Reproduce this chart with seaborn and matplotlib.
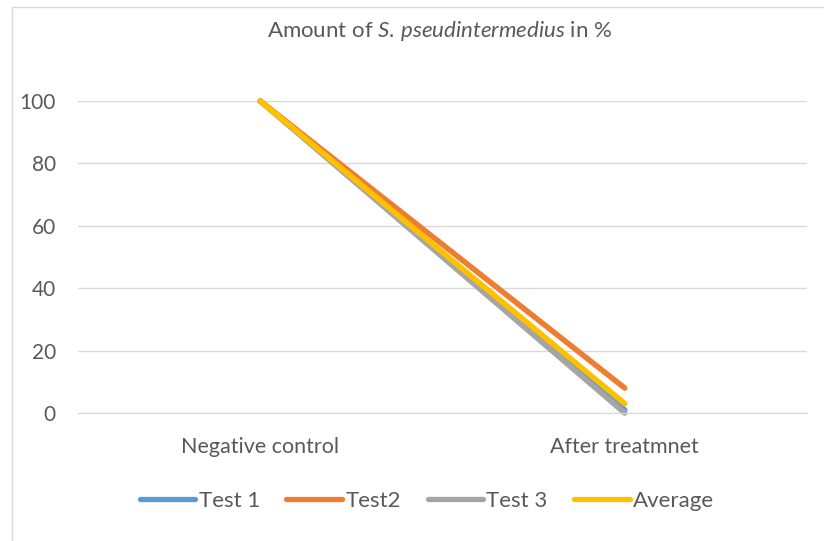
import matplotlib
matplotlib.use("Agg")
import matplotlib.pyplot as plt
import seaborn as sns
import pandas as pd
from matplotlib.patches import Rectangle

# data
stages = ["Negative control", "After treatmnet"]
test1 = [100, 1]
test2 = [100, 8]
test3 = [100, 0]
average = [100, 3]
series_names = ["Test 1", "Test2", "Test 3", "Average"]
colors = ["#5B9BD5", "#ED7D31", "#A5A5A5", "#FFC000"]

df = pd.DataFrame({
    "stage": stages * 4,
    "value": test1 + test2 + test3 + average,
    "series": [n for n in series_names for _ in stages],
})

sns.set_style("white")
plt.rcParams["font.family"] = ["Lato", "DejaVu Sans"]
plt.rcParams["mathtext.fontset"] = "custom"
plt.rcParams["mathtext.it"] = "Lato:italic"
plt.rcParams["mathtext.rm"] = "Lato"

text_col = "#595959"
fig = plt.figure(figsize=(8.24, 5.41), dpi=100)
ax = fig.add_axes([78 / 824, 1 - 413 / 541, 729 / 824, 312 / 541])

sns.lineplot(data=df, x="stage", y="value", hue="series", palette=colors,
             hue_order=series_names, linewidth=4, ax=ax, sort=False,
             legend=False)
for ln in ax.lines:
    ln.set_solid_capstyle("round")
    ln.set_clip_on(False)

ax.set_xlim(-0.5, 1.5)
ax.set_ylim(0, 100)
ax.set_yticks(range(0, 101, 20))
ax.grid(axis="y", color="#D9D9D9", linewidth=1)
ax.set_axisbelow(True)
for s in ["top", "right", "left"]:
    ax.spines[s].set_visible(False)
ax.spines["bottom"].set_color("#D9D9D9")
ax.tick_params(axis="y", length=0, pad=16, labelsize=15, labelcolor=text_col)
ax.tick_params(axis="x", length=0, pad=17, labelsize=15.5, labelcolor=text_col)
ax.set_xlabel("")
ax.set_ylabel("")

fig.text(440 / 824, 1 - 31 / 541, r"Amount of $\it{S.\,pseudintermedius}$ in %",
         ha="center", va="center", fontsize=16, color=text_col)

handles = [plt.Line2D([], [], color=c, lw=3.8, solid_capstyle="round") for c in colors]
leg = fig.legend(handles, series_names, loc="center", bbox_to_anchor=(427 / 824, 1 - 501 / 541),
                 ncol=4, frameon=False, fontsize=16, handlelength=2.5,
                 handletextpad=0.15, columnspacing=1.2)
for t in leg.get_texts():
    t.set_color(text_col)

fig.patches.append(Rectangle((12 / 824, -0.1), 1.1, 1 - 7 / 541 + 0.1,
                             transform=fig.transFigure, fill=False,
                             edgecolor="#D9D9D9", linewidth=1))

fig.savefig("out.png", dpi=100)
